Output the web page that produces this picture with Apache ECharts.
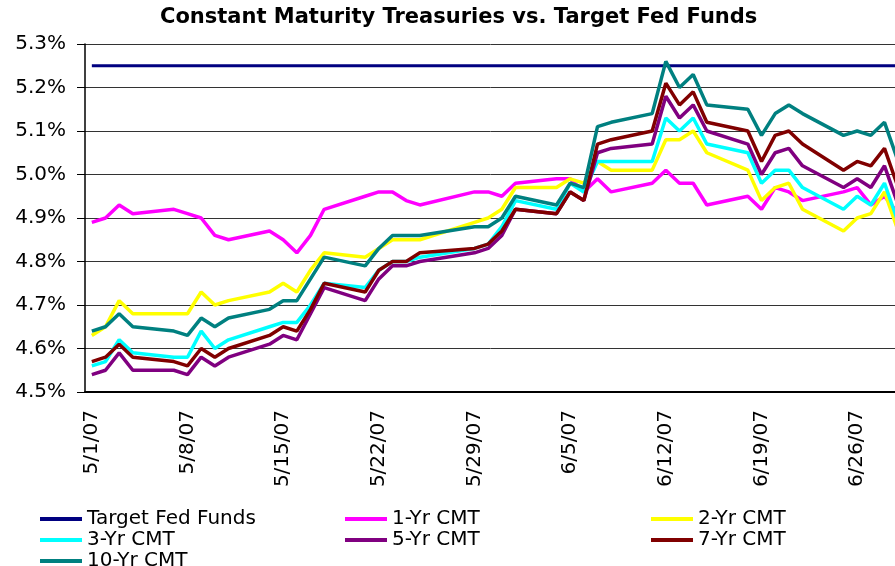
<!DOCTYPE html>
<html>
<head>
<meta charset="utf-8">
<script src="https://cdn.jsdelivr.net/npm/echarts@6/dist/echarts.min.js"></script>
<style>
  html, body { margin: 0; padding: 0; background: #fff; }
  #chart { width: 895px; height: 566px; }
</style>
</head>
<body>
<div id="chart"></div>
<script>
// trading days shown in the chart
var tradeDates = ['5/1/07','5/2/07','5/3/07','5/4/07','5/7/07','5/8/07','5/9/07','5/10/07','5/11/07','5/14/07',
  '5/15/07','5/16/07','5/17/07','5/18/07','5/21/07','5/22/07','5/23/07','5/24/07','5/25/07',
  '5/29/07','5/30/07','5/31/07',
  '6/1/07','6/4/07','6/5/07','6/6/07','6/7/07','6/8/07',
  '6/11/07','6/12/07','6/13/07','6/14/07','6/15/07',
  '6/18/07','6/19/07','6/20/07','6/21/07','6/22/07',
  '6/25/07','6/26/07','6/27/07','6/28/07','6/29/07'];

// axis runs over calendar days 5/1 .. 6/29, labelled every 7th day
var axisStart = '2007-05-01';
var axisDays = 60;

var yTicks = { min: 4.5, max: 5.3, step: 0.1 };

var fedTarget = [5.25,5.25,5.25,5.25,5.25,5.25,5.25,5.25,5.25,5.25,
  5.25,5.25,5.25,5.25,5.25,5.25,5.25,5.25,5.25,
  5.25,5.25,5.25,
  5.25,5.25,5.25,5.25,5.25,5.25,
  5.25,5.25,5.25,5.25,5.25,
  5.25,5.25,5.25,5.25,5.25,
  5.25,5.25,5.25,5.25,5.25];
var cmt1 = [4.89,4.90,4.93,4.91,4.92,4.91,4.90,4.86,4.85,4.87,
  4.85,4.82,4.86,4.92,4.95,4.96,4.96,4.94,4.93,
  4.96,4.96,4.95,
  4.98,4.99,4.99,4.96,4.99,4.96,
  4.98,5.01,4.98,4.98,4.93,
  4.95,4.92,4.97,4.96,4.94,
  4.96,4.97,4.93,4.95,4.91];
var cmt2 = [4.63,4.65,4.71,4.68,4.68,4.68,4.73,4.70,4.71,4.73,
  4.75,4.73,4.78,4.82,4.81,4.83,4.85,4.85,4.85,
  4.89,4.90,4.92,
  4.97,4.97,4.99,4.98,5.03,5.01,
  5.01,5.08,5.08,5.10,5.05,
  5.01,4.94,4.97,4.98,4.92,
  4.87,4.90,4.91,4.96,4.87];
var cmt3 = [4.56,4.57,4.62,4.59,4.58,4.58,4.64,4.60,4.62,4.65,
  4.66,4.66,4.70,4.75,4.74,4.78,4.80,4.80,4.81,
  4.83,4.84,4.88,
  4.94,4.92,4.98,4.96,5.03,5.03,
  5.03,5.13,5.10,5.13,5.07,
  5.05,4.98,5.01,5.01,4.97,
  4.92,4.95,4.93,4.98,4.89];
var cmt5 = [4.54,4.55,4.59,4.55,4.55,4.54,4.58,4.56,4.58,4.61,
  4.63,4.62,4.68,4.74,4.71,4.76,4.79,4.79,4.80,
  4.82,4.83,4.86,
  4.92,4.91,4.96,4.94,5.05,5.06,
  5.07,5.18,5.13,5.16,5.10,
  5.07,5.00,5.05,5.06,5.02,
  4.97,4.99,4.97,5.02,4.93];
var cmt7 = [4.57,4.58,4.61,4.58,4.57,4.56,4.60,4.58,4.60,4.63,
  4.65,4.64,4.69,4.75,4.73,4.78,4.80,4.80,4.82,
  4.83,4.84,4.87,
  4.92,4.91,4.96,4.94,5.07,5.08,
  5.10,5.21,5.16,5.19,5.12,
  5.10,5.03,5.09,5.10,5.07,
  5.01,5.03,5.02,5.06,4.97];
var cmt10 = [4.64,4.65,4.68,4.65,4.64,4.63,4.67,4.65,4.67,4.69,
  4.71,4.71,4.76,4.81,4.79,4.83,4.86,4.86,4.86,
  4.88,4.88,4.90,
  4.95,4.93,4.98,4.97,5.11,5.12,
  5.14,5.26,5.20,5.23,5.16,
  5.15,5.09,5.14,5.16,5.14,
  5.09,5.10,5.09,5.12,5.03];

var seriesNames = ['Target Fed Funds','1-Yr CMT','2-Yr CMT','3-Yr CMT','5-Yr CMT','7-Yr CMT','10-Yr CMT'];
var seriesValues = [fedTarget, cmt1, cmt2, cmt3, cmt5, cmt7, cmt10];
var seriesColors = ['#000080','#ff00ff','#ffff00','#00ffff','#800080','#800000','#008080'];

// build calendar-day categories (m/d/yy)
var calendar = [];
var d0 = new Date(axisStart + 'T00:00:00');
for (var i = 0; i < axisDays; i++) {
  var d = new Date(d0.getTime() + i * 86400000);
  calendar.push((d.getMonth() + 1) + '/' + d.getDate() + '/' + String(d.getFullYear()).slice(2));
}

var font = 'DejaVu Sans';

var series = seriesNames.map(function (name, k) {
  return {
    name: name,
    type: 'line',
    symbol: 'none',
    data: tradeDates.map(function (t, j) { return [t, seriesValues[k][j]]; }),
    lineStyle: { color: seriesColors[k], width: k === 0 ? 3 : 3.5 },
    itemStyle: { color: seriesColors[k] },
    emphasis: { disabled: true },
    animation: false
  };
});

function legendCol(names, left) {
  return {
    data: names,
    orient: 'vertical',
    left: left,
    top: 509,
    height: 90,   // last row is cut off by the bottom edge
    padding: 0,
    itemGap: 1,
    icon: 'rect',
    itemWidth: 42,
    itemHeight: 4,
    textStyle: { fontFamily: font, fontSize: 20, lineHeight: 20, color: '#000' }
  };
}

var myChart = echarts.init(document.getElementById('chart'));
myChart.setOption({
  animation: false,
  backgroundColor: '#fff',
  title: {
    text: 'Constant Maturity Treasuries vs. Target Fed Funds',
    left: 160,
    top: 7,
    padding: 0,
    textStyle: { fontFamily: font, fontSize: 21, fontWeight: 'bold', color: '#000' }
  },
  legend: [
    legendCol(['Target Fed Funds', '3-Yr CMT', '10-Yr CMT'], 40),
    legendCol(['1-Yr CMT', '5-Yr CMT'], 345),
    legendCol(['2-Yr CMT', '7-Yr CMT'], 651)
  ],
  grid: {
    left: 85,
    top: 44,
    right: -10,   // chart is cut off at the right edge
    bottom: 174,
    containLabel: false,
    outerBoundsMode: 'none'
  },
  xAxis: {
    type: 'category',
    data: calendar,
    boundaryGap: true,
    axisLine: { lineStyle: { color: '#000', width: 2 } },
    axisTick: { interval: 6, length: 6, lineStyle: { color: '#000' } },
    axisLabel: {
      interval: 6,
      rotate: 90,
      margin: 18,
      fontFamily: font,
      fontSize: 20,
      color: '#000'
    },
    splitLine: { show: false }
  },
  yAxis: {
    type: 'value',
    min: yTicks.min,
    max: yTicks.max,
    interval: yTicks.step,
    axisLine: { show: true, lineStyle: { color: '#000', width: 1.5 } },
    axisTick: { show: true, length: 8, lineStyle: { color: '#000' } },
    axisLabel: {
      margin: 19,
      fontFamily: font,
      fontSize: 20,
      color: '#000',
      formatter: function (v) { return v.toFixed(1) + '%'; }
    },
    splitLine: { lineStyle: { color: '#333', width: 1 } }
  },
  series: series
});
</script>
</body>
</html>
